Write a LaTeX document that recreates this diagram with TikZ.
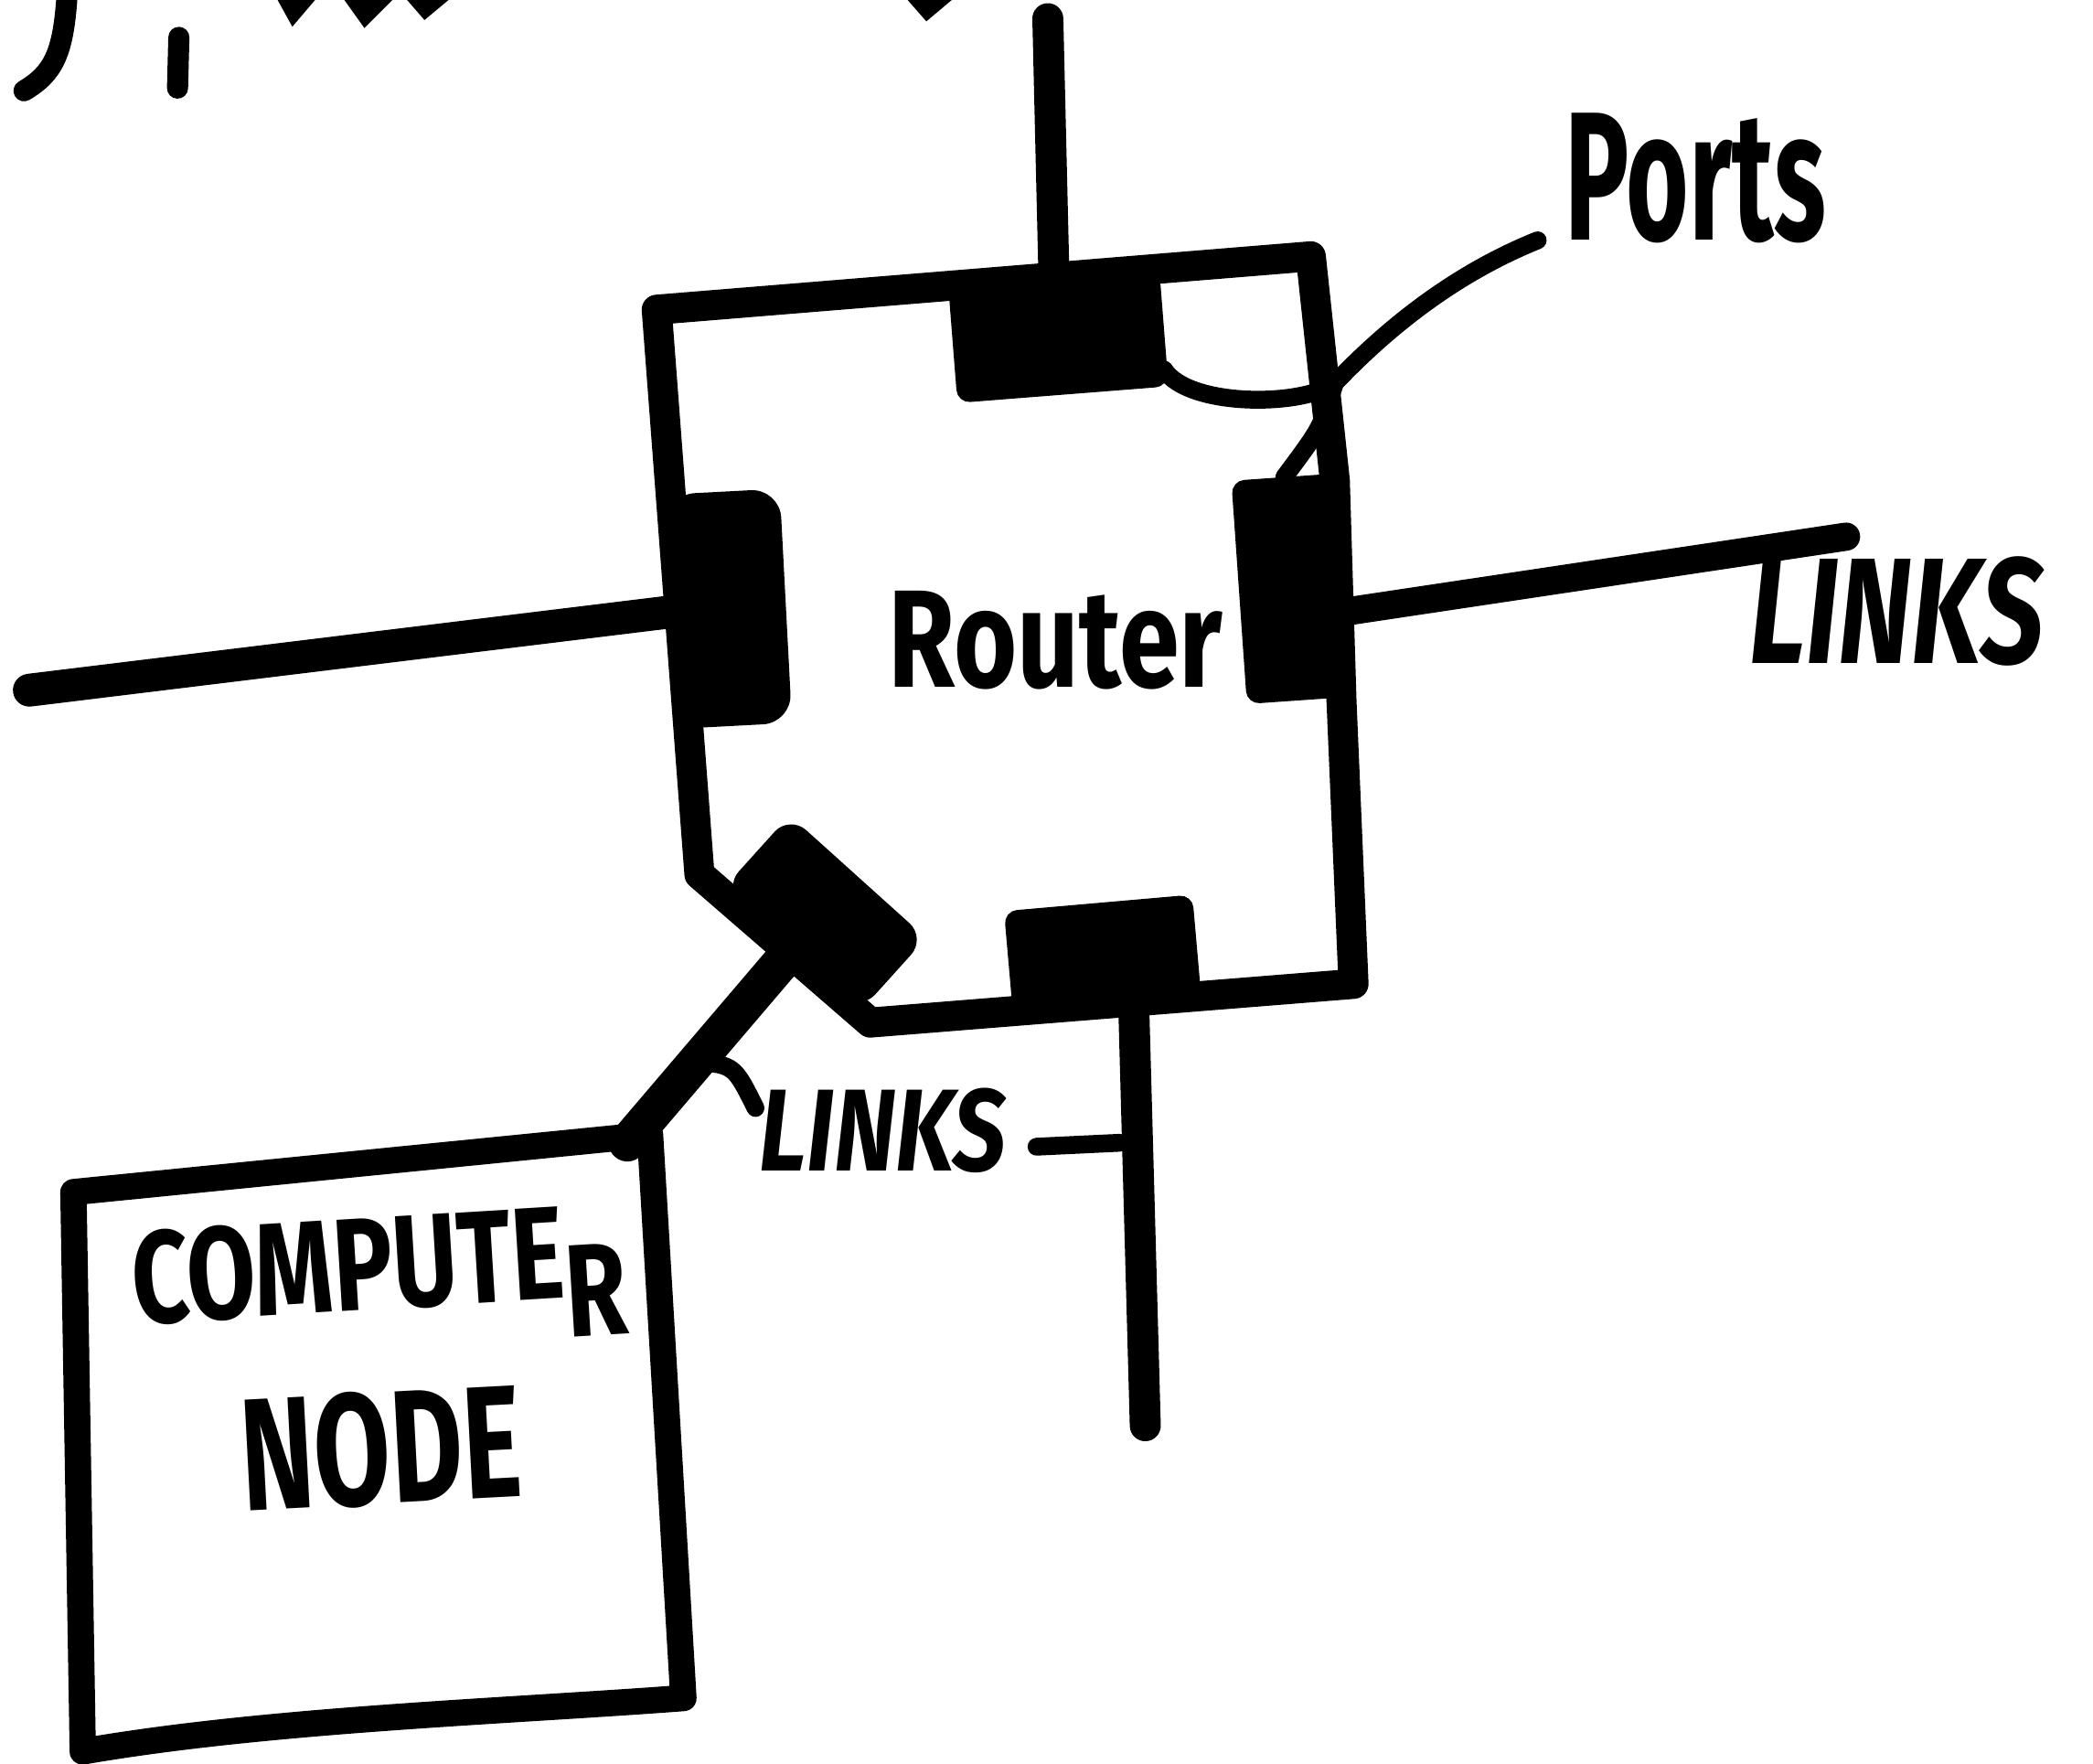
\documentclass[tikz,border=0pt]{standalone}
\usepackage{fontspec}
\setmainfont{Fira Sans}
\usetikzlibrary{calc}
\tikzset{
  wall/.style={line width=6.4pt, line join=round, line cap=round},
  cwall/.style={line width=5.6pt, line join=round, line cap=round},
  link/.style={line width=6.6pt, line cap=round},
  leader/.style={line width=3.8pt, line cap=round},
  portbox/.style={fill=black, draw=black, line width=1pt, rectangle, rounded corners=0.08cm, inner sep=0pt},
  hand/.style={inner sep=0pt, font=\bfseries},
}
\begin{document}
\begin{tikzpicture}[x=0.01cm,y=-0.01cm]
\fill[white] (0,0) rectangle (1568,1321);
\useasboundingbox (0,0) rectangle (1568,1321);

% cut-off fragments at the top edge
\draw[line width=4.5pt, line cap=round] (50,0) .. controls (47,40) and (40,55) .. (18,68);
\draw[line width=4.5pt, line cap=round] (134,28) -- (133,66);
\fill (208,0) -- (236,0) -- (219,20) -- cycle;
\fill (258,0) -- (294,0) -- (273,21) -- cycle;
\fill (305,0) -- (336,0) -- (318,15) -- cycle;
\fill (680,0) -- (713,0) -- (694,16) -- cycle;

% router outline
\draw[wall] (492,232) -- (982,192) -- (1000,360) -- (1005,525) -- (1014,737)
  -- (652,766) -- (524,655) -- cycle;

% computer node outline
\draw[cwall] (55,893) -- (487,850) -- (512,1272)
  .. controls (380,1282) and (200,1288) .. (62,1312) -- cycle;
\coordinate (cnTR) at (470,856);

% ports
\node[portbox, minimum width=1.55cm, minimum height=0.82cm, rotate=4.5] (ptop) at (793,253) {};
\node[portbox, minimum width=0.76cm, minimum height=1.64cm, rotate=4] (pright) at (968,441) {};
\node[portbox, minimum width=0.82cm, minimum height=1.72cm, rotate=3, rounded corners=0.2cm] (pleft) at (546,456) {};
\node[portbox, minimum width=1.38cm, minimum height=0.72cm, rotate=5] (pbot) at (826,714) {};
\node[portbox, minimum width=1.34cm, minimum height=0.7cm, rotate=-42, rounded corners=0.15cm] (pdiag) at (618,684) {};

% links
\coordinate (ltopend) at (785,14);
\coordinate (lleftend) at (22,517);
\coordinate (lrightend) at (1383,402);
\coordinate (lbotend) at (858,1068);
\draw[link] (ltopend) -- (ptop.north);
\draw[link, line width=7pt] (lleftend) -- (pleft.west);
\draw[link, line width=6pt] ([yshift=-0.2cm]pright.east) -- (lrightend);
\draw[link] ([xshift=0.2cm]pbot.south) -- (lbotend);
\draw[link, line width=8pt] (pdiag.south) -- (cnTR);

% labels
\node[hand, anchor=base west] (portslbl) at (1172,180) {\resizebox{1.95cm}{0.95cm}{Ports}};
\node[hand, anchor=base west] (routerlbl) at (665,515) {\resizebox{2.5cm}{0.72cm}{Router}};
\node[hand, anchor=base west] (linksr) at (1310,497) {\resizebox{2.2cm}{0.8cm}{\itshape LINKS}};
\node[hand, anchor=base west] (linksb) at (568,877) {\resizebox{1.85cm}{0.62cm}{\itshape LINKS}};
\node[hand, anchor=base west, rotate=3.5] (cnlbl1) at (100,992) {\resizebox{3.7cm}{0.7cm}{COMPUTE\raisebox{-0.3em}{R}}};
\node[hand, anchor=base west, rotate=3] (cnlbl2) at (182,1132) {\resizebox{2.1cm}{0.85cm}{NODE}};

% leaders
\coordinate (pj) at (1000,287);
\draw[leader] ([xshift=-0.2cm]portslbl.base west) .. controls (1090,205) and (1040,245) .. (pj);
\draw[leader] (pj) .. controls (975,305) and (890,305) .. ([yshift=-0.3cm]ptop.east);
\draw[leader] (pj) .. controls (990,320) .. (pright.north);
\draw[leader] ($(pdiag.south)!0.58!(cnTR)$) .. controls (550,798) .. ([shift={(-0.02cm,0.47cm)}]linksb.base west);
\draw[leader] ([xshift=0.22cm, yshift=0.18cm]linksb.base east) -- ($(pbot.south)!0.33!(lbotend)$);
\end{tikzpicture}
\end{document}
